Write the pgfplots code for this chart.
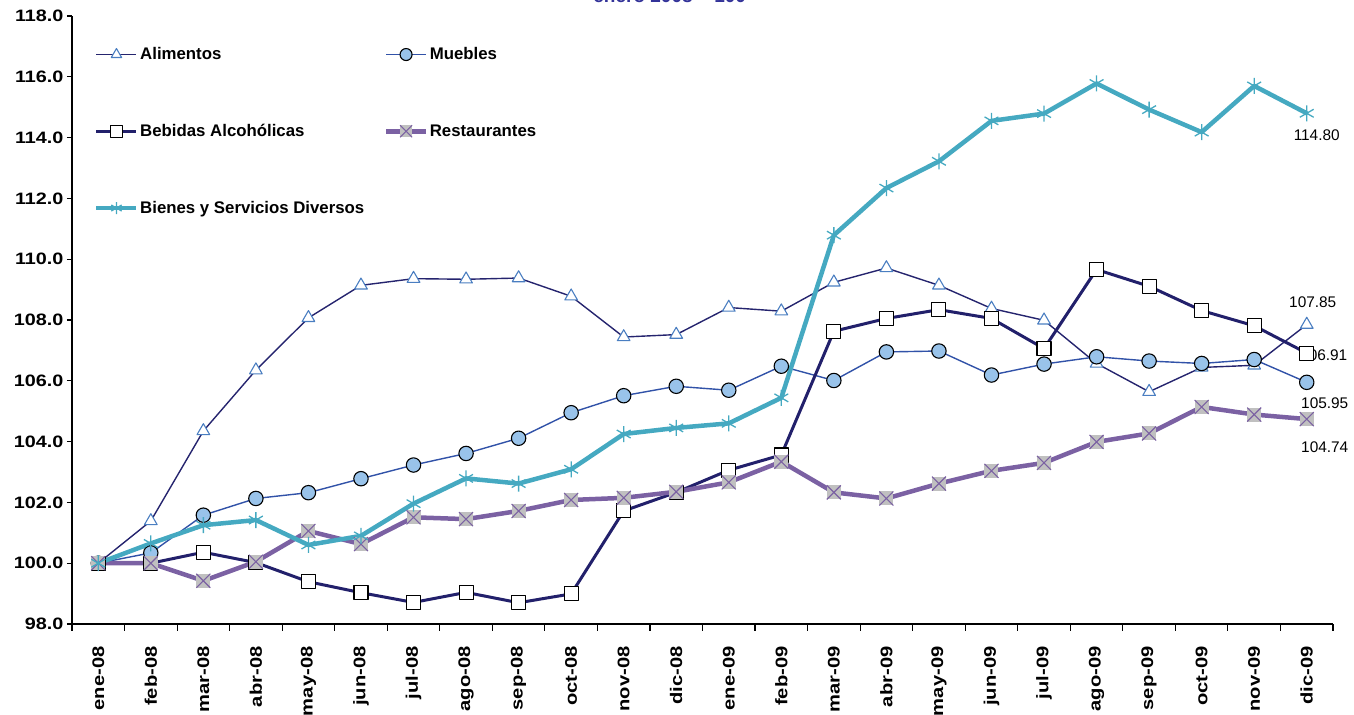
\documentclass[border=0pt]{standalone}
\usepackage{fontspec}
\setmainfont{Liberation Sans}
\newfontfamily\tickfont{Liberation Sans}[FakeStretch=1.2]
\usepackage{pgfplots}
\pgfplotsset{compat=1.18}

\definecolor{alinav}{HTML}{25246E}
\definecolor{alitri}{HTML}{4A7EC1}
\definecolor{mueline}{HTML}{3152A8}
\definecolor{muefill}{HTML}{99C3EA}
\definecolor{bebnav}{HTML}{22206B}
\definecolor{respur}{HTML}{7B61A3}
\definecolor{resgray}{HTML}{C0C0C0}
\definecolor{bienteal}{HTML}{45A9C1}
\definecolor{titleblue}{HTML}{333399}

\pgfdeclareplotmark{sqx}{%
  \pgfpathrectangle{\pgfqpoint{-\pgfplotmarksize}{-\pgfplotmarksize}}{\pgfqpoint{2\pgfplotmarksize}{2\pgfplotmarksize}}%
  \pgfsetfillcolor{resgray}\pgfusepathqfill
  \pgfpathmoveto{\pgfqpoint{-\pgfplotmarksize}{-\pgfplotmarksize}}%
  \pgfpathlineto{\pgfqpoint{\pgfplotmarksize}{\pgfplotmarksize}}%
  \pgfpathmoveto{\pgfqpoint{-\pgfplotmarksize}{\pgfplotmarksize}}%
  \pgfpathlineto{\pgfqpoint{\pgfplotmarksize}{-\pgfplotmarksize}}%
  \pgfusepathqstroke}

\begin{document}
\begin{tikzpicture}
\begin{axis}[
  scale only axis, width=1261bp, height=608bp,
  xmin=-0.5, xmax=23.5, ymin=98, ymax=118,
  axis x line=bottom, axis y line=left,
  axis line style={-, line width=1.2bp, black},
  clip=false,
  xtick={0,...,23},
  xticklabels={ene-08,feb-08,mar-08,abr-08,may-08,jun-08,jul-08,ago-08,sep-08,oct-08,nov-08,dic-08,ene-09,feb-09,mar-09,abr-09,may-09,jun-09,jul-09,ago-09,sep-09,oct-09,nov-09,dic-09},
  major x tick style={draw=none},
  minor xtick={-0.5,0.5,...,23.5},
  ytick={98,100,...,118},
  tick align=outside,
  major tick length=5bp, minor tick length=6.5bp,
  tick style={line width=1.1bp, black},
  /pgf/number format/assume math mode=true,
  yticklabel style={font=\tickfont\bfseries\fontsize{16.5bp}{19bp}\selectfont,
     /pgf/number format/.cd, fixed, fixed zerofill, precision=1},
  xticklabel style={font=\tickfont\bfseries\fontsize{16.8bp}{19bp}\selectfont, rotate=90, anchor=east},
  xticklabel shift=14bp,
  legend style={draw=none, fill=none, at={(0,1)}, anchor=north west, xshift=22bp, yshift=-30bp,
     legend columns=2, row sep=60bp, inner sep=0pt,
     nodes={inner sep=1.5bp, font=\bfseries\fontsize{16.8bp}{19bp}\selectfont},
     /tikz/every even column/.append style={column sep=18bp}},
  legend cell align=left,
  legend image code/.code={\draw[mark repeat=2,mark phase=2,#1] plot coordinates {(0bp,0bp) (20bp,0bp) (40bp,0bp)};},
  legend image post style={mark size=6bp},
  every axis plot/.append style={line join=round},
]
\coordinate (ll) at (rel axis cs:0,0);
\coordinate (ur) at (rel axis cs:1,1);

\addplot[draw=alinav, line width=1.4bp, mark=triangle*, mark size=7.3bp,
  mark options={fill=white, draw=alitri, line width=1.1bp, solid}]
  coordinates {(0,100.00)(1,101.39)(2,104.35)(3,106.35)(4,108.07)(5,109.14)(6,109.36)(7,109.34)(8,109.38)(9,108.78)(10,107.44)(11,107.52)(12,108.41)(13,108.29)(14,109.24)(15,109.71)(16,109.14)(17,108.38)(18,107.99)(19,106.57)(20,105.64)(21,106.44)(22,106.51)(23,107.85)}
  node[pos=1, xshift=6bp, yshift=22bp, font=\fontsize{15.4bp}{18bp}\selectfont] {107.85};
\addlegendentry{Alimentos}

\addplot[draw=mueline, line width=1.4bp, mark=*, mark size=7.2bp,
  mark options={fill=muefill, draw=black, line width=1.1bp, solid}]
  coordinates {(0,100.00)(1,100.34)(2,101.58)(3,102.13)(4,102.32)(5,102.78)(6,103.23)(7,103.61)(8,104.11)(9,104.95)(10,105.51)(11,105.82)(12,105.69)(13,106.48)(14,106.01)(15,106.95)(16,106.98)(17,106.19)(18,106.55)(19,106.79)(20,106.65)(21,106.57)(22,106.70)(23,105.95)}
  node[pos=1, xshift=18bp, yshift=-21bp, font=\fontsize{15.4bp}{18bp}\selectfont] {105.95};
\addlegendentry{Muebles}

\addplot[draw=bebnav, line width=3bp, mark=square*, mark size=7bp,
  mark options={fill=white, draw=black, line width=1.1bp, solid}]
  coordinates {(0,100.00)(1,100.00)(2,100.36)(3,100.02)(4,99.39)(5,99.03)(6,98.71)(7,99.04)(8,98.70)(9,98.99)(10,101.72)(11,102.33)(12,103.06)(13,103.56)(14,107.63)(15,108.05)(16,108.34)(17,108.05)(18,107.06)(19,109.66)(20,109.11)(21,108.31)(22,107.81)(23,106.91)}
  node[pos=1, xshift=17bp, yshift=-2bp, font=\fontsize{15.4bp}{18bp}\selectfont] {106.91};
\addlegendentry{Bebidas Alcohólicas}

\addplot[draw=respur, line width=4.5bp, mark=sqx, mark size=7bp,
  mark options={draw=respur, line width=1.1bp, solid}]
  coordinates {(0,100.00)(1,100.00)(2,99.42)(3,100.05)(4,101.06)(5,100.63)(6,101.51)(7,101.45)(8,101.72)(9,102.08)(10,102.15)(11,102.35)(12,102.66)(13,103.34)(14,102.33)(15,102.13)(16,102.62)(17,103.04)(18,103.30)(19,103.99)(20,104.27)(21,105.14)(22,104.89)(23,104.74)}
  node[pos=1, xshift=18bp, yshift=-28bp, font=\fontsize{15.4bp}{18bp}\selectfont] {104.74};
\addlegendentry{Restaurantes}

\addplot[draw=bienteal, line width=4.5bp, mark=asterisk, mark size=8bp,
  mark options={draw=bienteal, line width=1.3bp, solid}]
  coordinates {(0,100.00)(1,100.65)(2,101.25)(3,101.42)(4,100.60)(5,100.90)(6,101.96)(7,102.79)(8,102.62)(9,103.09)(10,104.25)(11,104.45)(12,104.60)(13,105.44)(14,110.79)(15,112.34)(16,113.22)(17,114.55)(18,114.79)(19,115.78)(20,114.92)(21,114.18)(22,115.70)(23,114.80)}
  node[pos=1, xshift=10bp, yshift=-22bp, font=\fontsize{15.4bp}{18bp}\selectfont] {114.80};
\addlegendentry{Bienes y Servicios Diversos}

\node[anchor=base, yshift=13bp, text=titleblue, font=\bfseries\fontsize{19bp}{22bp}\selectfont]
  at (rel axis cs:0.474,1) {enero 2008 = 100};
\end{axis}
\pgfresetboundingbox
\path[use as bounding box] ([shift={(-72bp,-90bp)}]ll) rectangle ([shift={(21bp,16bp)}]ur);
\end{tikzpicture}
\end{document}
